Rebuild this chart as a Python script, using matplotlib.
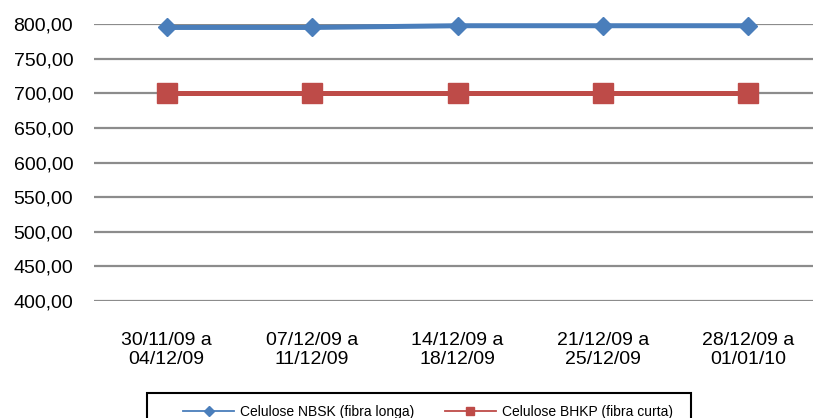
import matplotlib
matplotlib.use("Agg")
import matplotlib.pyplot as plt
from matplotlib.lines import Line2D
from matplotlib.patches import Rectangle

plt.rcParams['font.family'] = ['Liberation Sans', 'DejaVu Sans']

categories = ["30/11/09 a\n04/12/09", "07/12/09 a\n11/12/09", "14/12/09 a\n18/12/09",
              "21/12/09 a\n25/12/09", "28/12/09 a\n01/01/10"]
nbsk = [795.0, 795.0, 797.5, 797.5, 797.5]
bhkp = [700.0, 700.0, 700.0, 700.0, 700.0]
yticks = [400, 450, 500, 550, 600, 650, 700, 750, 800]
ytick_labels = ["400,00", "450,00", "500,00", "550,00", "600,00", "650,00", "700,00", "750,00", "800,00"]
series_names = ["Celulose NBSK (fibra longa)", "Celulose BHKP (fibra curta)"]

blue = "#4A7EBB"
red = "#BE4B48"

fig = plt.figure(figsize=(8.13, 4.18), dpi=100)
ax = fig.add_axes([94/813, 117/418, (821-94)/813, (301-24)/418])

x = list(range(len(categories)))
ax.plot(x, nbsk, color=blue, lw=3.6, marker='D', ms=9.5, mec=blue, mfc=blue, clip_on=False, zorder=3)
ax.plot(x, bhkp, color=red, lw=3.6, marker='s', ms=14, mec=red, mfc=red, clip_on=False, zorder=3)

ax.set_xlim(-0.5, len(categories) - 0.5)
ax.set_ylim(400, 800)
ax.set_yticks(yticks)
ax.set_yticklabels(ytick_labels, fontsize=14)
ax.set_xticks(x)
ax.set_xticklabels(categories, fontsize=14, linespacing=1.2)
ax.tick_params(axis='both', length=0)
ax.tick_params(axis='y', pad=15)
ax.tick_params(axis='x', pad=22)
ax.grid(axis='y', color='#8C8C8C', lw=1.6)
ax.set_axisbelow(True)
for s in ax.spines.values():
    s.set_visible(False)

handles = [Line2D([], [], color=blue, lw=1.3, marker='D', ms=5, mec=blue, mfc=blue),
           Line2D([], [], color=red, lw=1.3, marker='s', ms=6, mec=red, mfc=red)]
leg = fig.legend(handles, series_names, loc='center left', bbox_to_anchor=(183/813, (418-412)/418),
                 ncol=2, fontsize=10, frameon=False,
                 handlelength=3.7, handletextpad=0.4, columnspacing=2.2, borderpad=0,
                 borderaxespad=0)
fig.patches.append(Rectangle((147/813, -0.05), (691-147)/813, (418-393)/418 + 0.05,
                             transform=fig.transFigure, fill=False, lw=1.5, ec='black',
                             clip_on=False))

fig.savefig("out.png", dpi=100)
